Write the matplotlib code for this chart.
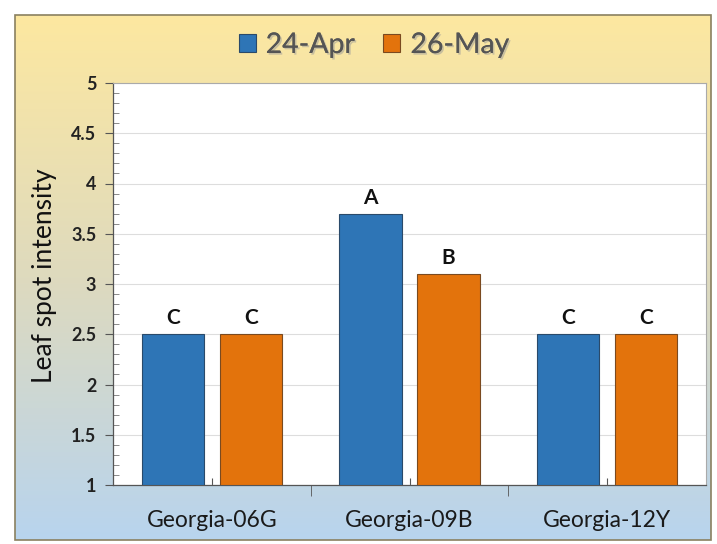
import numpy as np
import matplotlib
matplotlib.use("Agg")
import matplotlib.pyplot as plt
from matplotlib.patches import Rectangle
from matplotlib.ticker import MultipleLocator, FixedLocator, NullFormatter
import matplotlib.patheffects as pe

categories = ["Georgia-06G", "Georgia-09B", "Georgia-12Y"]
series_names = ["24-Apr", "26-May"]
apr_values = [2.5, 3.7, 2.5]
may_values = [2.5, 3.1, 2.5]
apr_letters = ["C", "A", "C"]
may_letters = ["C", "B", "C"]
y_ticks = [1, 1.5, 2, 2.5, 3, 3.5, 4, 4.5, 5]
y_tick_labels = ["1", "1.5", "2", "2.5", "3", "3.5", "4", "4.5", "5"]

W, H = 717, 544
fig = plt.figure(figsize=(W / 100, H / 100), dpi=100)
fig.patch.set_facecolor("white")

font = ["Lato", "DejaVu Sans"]

# background gradient box
bg = fig.add_axes([0, 0, 1, 1])
bg.set_xlim(0, W)
bg.set_ylim(H, 0)
bg.axis("off")
top_c = np.array([253, 232, 160]) / 255
mid_c = np.array([222, 218, 190]) / 255
bot_c = np.array([184, 212, 238]) / 255
t = np.linspace(0, 1, 256)[:, None]
grad = np.where(t < 0.5, top_c + (mid_c - top_c) * (t / 0.5), mid_c + (bot_c - mid_c) * ((t - 0.5) / 0.5))
img = np.repeat(grad[:, None, :], 2, axis=1)
bx0, bx1, by0, by1 = 15, 711, 15, 540
bg.imshow(img, extent=[bx0, bx1, by1, by0], aspect="auto", interpolation="bilinear", zorder=0)
bg.add_patch(Rectangle((bx0, by0), bx1 - bx0, by1 - by0, fill=False, edgecolor="#8a8060", lw=1.2, zorder=2))

# main axes
px0, px1, py0, py1 = 113, 706, 83, 485
ax = fig.add_axes([px0 / W, 1 - py1 / H, (px1 - px0) / W, (py1 - py0) / H])
ax.set_facecolor("white")

x = np.arange(len(categories))
bw = 0.315
off = 0.197
blue = "#2e75b6"
orange = "#e3730c"
b1 = ax.bar(x - off, [v - 1 for v in apr_values], bw, bottom=1, color=blue, edgecolor="#2a4a6a", lw=0.8, zorder=3, label=series_names[0])
b2 = ax.bar(x + off, [v - 1 for v in may_values], bw, bottom=1, color=orange, edgecolor="#7a4a20", lw=0.8, zorder=3, label=series_names[1])

for xi, v, l in zip(x - off, apr_values, apr_letters):
    ax.text(xi, v + 0.06, l, ha="center", va="bottom", fontsize=15, fontweight="bold", family=font, color="#111111")
for xi, v, l in zip(x + off, may_values, may_letters):
    ax.text(xi, v + 0.06, l, ha="center", va="bottom", fontsize=15, fontweight="bold", family=font, color="#111111")

ax.set_xlim(-0.5, len(categories) - 0.5)
ax.set_ylim(1, 5)
ax.set_yticks(y_ticks)
ax.set_yticklabels(y_tick_labels, family=font, fontsize=13, fontweight="bold", color="#222222")
ax.yaxis.set_minor_locator(MultipleLocator(0.1))
ax.tick_params(axis="y", which="major", direction="out", length=6, color="#555555", pad=6)
ax.tick_params(axis="y", which="minor", direction="in", length=4, color="#777777")
ax.grid(axis="y", which="major", color="#dddddd", lw=0.8, zorder=0)

ax.set_xticks(x)
ax.set_xticklabels(categories, family=font, fontsize=16.5, color="#1a1a1a")
ax.tick_params(axis="x", which="major", direction="in", length=5, color="#555555", pad=18)
ax.xaxis.set_minor_locator(FixedLocator([0.5, 1.5]))
ax.xaxis.set_minor_formatter(NullFormatter())
ax.tick_params(axis="x", which="minor", direction="out", length=8, color="#555555")

for s in ["top", "right"]:
    ax.spines[s].set_color("#aaaaaa")
    ax.spines[s].set_linewidth(0.8)
for s in ["left", "bottom"]:
    ax.spines[s].set_color("#555555")
    ax.spines[s].set_linewidth(0.9)

ax.set_ylabel("Leaf spot intensity", family=font, fontsize=19, color="#111111", labelpad=8)
ax.yaxis.set_label_coords(-0.095, 0.52)

leg = fig.legend(handles=[b1, b2], labels=series_names, loc="center", bbox_to_anchor=(374 / W, 1 - 45 / H),
                 ncol=2, frameon=False, prop={"family": font, "size": 20.5}, handlelength=0.6, handleheight=0.6,
                 columnspacing=1.0, handletextpad=0.35)
for txt in leg.get_texts():
    txt.set_color("#555555")
    txt.set_path_effects([pe.withSimplePatchShadow(offset=(1.2, -1.2), shadow_rgbFace="#999999", alpha=0.5), pe.Normal()])

fig.savefig("out.png", dpi=100)
